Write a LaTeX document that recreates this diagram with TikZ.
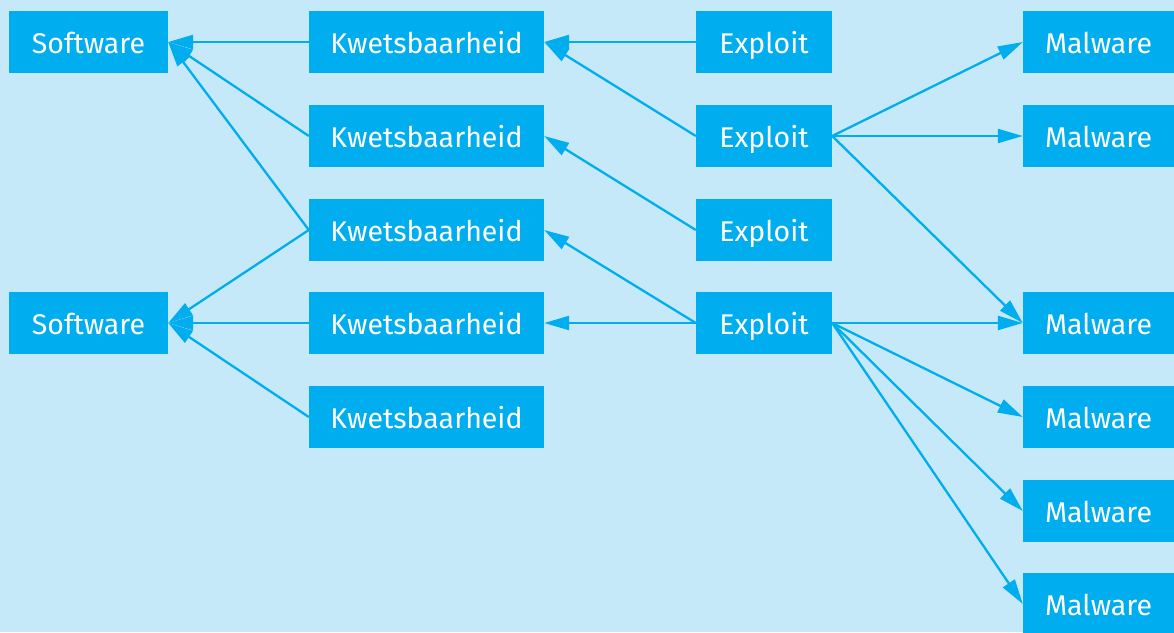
\documentclass[tikz,border=0pt]{standalone}
\usepackage{fontspec}
\setmainfont{Fira Sans}
\usetikzlibrary{arrows.meta}
\definecolor{bg}{HTML}{C6E9F9}
\definecolor{boxc}{HTML}{00AEEF}
\begin{document}
\begin{tikzpicture}[x=1pt,y=-1pt,
  box/.style={fill=boxc,text=white,inner sep=0pt,minimum height=62pt,text height=28pt,text depth=6pt,font=\fontsize{28.5}{32}\selectfont,anchor=center},
  conn/.style={draw=boxc,line width=2.3pt,-{Triangle[length=25pt,width=14pt]}}]
\fill[bg] (0,0) rectangle (1174,632);
\useasboundingbox (0,0) rectangle (1174,632);
% Software
\node[box,minimum width=159pt] (s1) at (88.5,42) {Software};
\node[box,minimum width=159pt] (s2) at (88.5,323) {Software};
% Kwetsbaarheid
\foreach \i/\y in {1/42,2/136,3/230,4/323,5/417}
  \node[box,minimum width=235pt] (k\i) at (426.5,\y) {Kwetsbaarheid};
% Exploit
\foreach \i/\y in {1/42,2/136,3/230,4/323}
  \node[box,minimum width=136pt] (e\i) at (764,\y) {Exploit};
% Malware
\foreach \i/\y in {1/42,2/136,3/323,4/417,5/511,6/604}
  \node[box,minimum width=151pt] (m\i) at (1098.5,\y) {Malware};
% Kwetsbaarheid -> Software
\draw[conn] (k1.west) -- (s1.east);
\draw[conn] (k2.west) -- (s1.east);
\draw[conn] (k3.west) -- (s1.east);
\draw[conn] (k3.west) -- (s2.east);
\draw[conn] (k4.west) -- (s2.east);
\draw[conn] (k5.west) -- (s2.east);
% Exploit -> Kwetsbaarheid
\draw[conn] (e1.west) -- (k1.east);
\draw[conn] (e2.west) -- (k1.east);
\draw[conn] (e3.west) -- (k2.east);
\draw[conn] (e4.west) -- (k3.east);
\draw[conn] (e4.west) -- (k4.east);
% Exploit -> Malware
\draw[conn] (e2.east) -- (m1.west);
\draw[conn] (e2.east) -- (m2.west);
\draw[conn] (e2.east) -- (m3.west);
\draw[conn] (e4.east) -- (m3.west);
\draw[conn] (e4.east) -- (m4.west);
\draw[conn] (e4.east) -- (m5.west);
\draw[conn] (e4.east) -- (m6.west);
\end{tikzpicture}
\end{document}
